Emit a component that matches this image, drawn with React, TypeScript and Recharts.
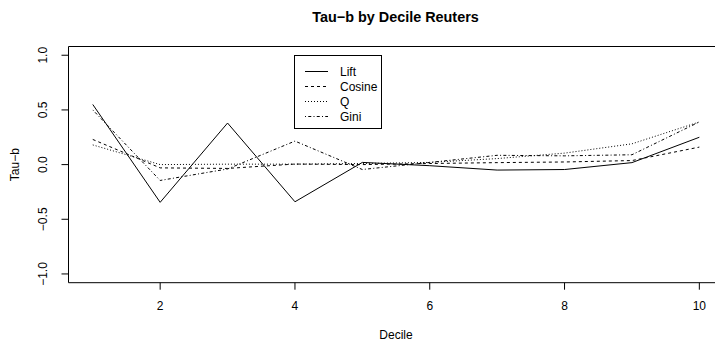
import React from "react";
import { LineChart, Line, XAxis, YAxis, ReferenceArea, Legend, Label } from "recharts";

// Tau-b by decile (Reuters)
const deciles = [1, 2, 3, 4, 5, 6, 7, 8, 9, 10];
const lift = [0.55, -0.345, 0.38, -0.34, 0.02, -0.01, -0.05, -0.045, 0.018, 0.25];
const cosine = [0.23, -0.03, -0.035, 0.005, 0.0, 0.01, 0.018, 0.024, 0.037, 0.16];
const qVals = [0.18, 0.0, 0.004, 0.004, 0.01, 0.02, 0.055, 0.105, 0.19, 0.39];
const gini = [0.5, -0.145, -0.04, 0.215, -0.045, 0.02, 0.085, 0.08, 0.09, 0.39];
const xTicks = [2, 4, 6, 8, 10];
const yTicks = [-1, -0.5, 0, 0.5, 1];

const series = [
  { key: "lift", name: "Lift", dash: undefined as string | undefined },
  { key: "cosine", name: "Cosine", dash: "3 3" },
  { key: "q", name: "Q", dash: "1 2" },
  { key: "gini", name: "Gini", dash: "1 2.25 3 2.25" },
];

const data = deciles.map((d, i) => ({
  decile: d,
  lift: lift[i],
  cosine: cosine[i],
  q: qVals[i],
  gini: gini[i],
}));

const FONT = "'Liberation Sans', Arial, Helvetica, sans-serif";
const fmt = (v: number) => v.toFixed(1).replace("-", "\u2212");

const YTick = (props: any) => {
  const { x, y, payload } = props;
  return (
    <text x={x} y={y} transform={`rotate(-90, ${x}, ${y})`} textAnchor="middle"
      fontSize={12} fontFamily={FONT} fill="#000">
      {fmt(payload.value)}
    </text>
  );
};

const XLabel = (props: any) => {
  const vb = props.viewBox;
  return (
    <text x={vb.x + vb.width / 2} y={vb.y + 56} textAnchor="middle" fontSize={12} fontFamily={FONT} fill="#000">
      Decile
    </text>
  );
};

const YLabel = (props: any) => {
  const vb = props.viewBox;
  const x = vb.x + 19.3;
  const y = vb.y + vb.height / 2;
  return (
    <text x={x} y={y} transform={`rotate(-90, ${x}, ${y})`} textAnchor="middle" fontSize={12} fontFamily={FONT} fill="#000">
      Tau{"\u2212"}b
    </text>
  );
};

const LegendBox = () => (
  <div style={{ border: "1px solid #000", background: "#fff", width: 88, height: 74, boxSizing: "border-box", paddingTop: 8 }}>
    {series.map((s) => (
      <div key={s.key} style={{ display: "flex", alignItems: "center", height: 15, fontFamily: FONT, fontSize: 12, color: "#000" }}>
        <svg width={45} height={15} style={{ flex: "none" }}>
          <line x1={10} x2={33} y1={7.5} y2={7.5} stroke="#000" strokeWidth={1} strokeDasharray={s.dash} />
        </svg>
        <span>{s.name}</span>
      </div>
    ))}
  </div>
);

export default function App() {
  return (
    <div style={{ position: "absolute", left: 0, top: 0, width: 715, height: 345, overflow: "hidden", background: "#fff" }}>
      <div style={{ position: "absolute", left: 67.5, width: 656, top: 9, textAlign: "center", fontFamily: FONT, fontWeight: "bold", fontSize: 14.4, lineHeight: "16px", color: "#000" }}>
        Tau{"\u2212"}b by Decile Reuters
      </div>
      <LineChart width={730} height={345} data={data} margin={{ top: 46.5, right: 6.4, bottom: 0, left: 0 }}>
        <XAxis dataKey="decile" type="number" domain={[0.64, 10.36]} ticks={xTicks} allowDataOverflow
          axisLine={false} tickSize={7} tickMargin={12} height={62.3} tickLine={{ stroke: "#000" }}
          tick={{ fontSize: 12, fontFamily: FONT, fill: "#000" }}>
          <Label content={XLabel} />
        </XAxis>
        <YAxis type="number" domain={[-1.08, 1.08]} ticks={yTicks} allowDataOverflow width={68.5}
          axisLine={false} tickSize={7} tickMargin={14.5} tickLine={{ stroke: "#000" }} tick={YTick}>
          <Label content={YLabel} />
        </YAxis>
        <ReferenceArea x1={0.64} x2={10.36} y1={-1.08} y2={1.08} fill="none" fillOpacity={0} stroke="#000" strokeWidth={1} strokeOpacity={1} />
        {series.map((s) => (
          <Line key={s.key} type="linear" dataKey={s.key} name={s.name} stroke="#000" strokeWidth={1}
            strokeDasharray={s.dash} dot={false} activeDot={false} isAnimationActive={false} />
        ))}
        <Legend layout="vertical" align="center" verticalAlign="middle" content={LegendBox}
          wrapperStyle={{ left: 294, top: 55, width: 88, height: 74 }} />
      </LineChart>
    </div>
  );
}
